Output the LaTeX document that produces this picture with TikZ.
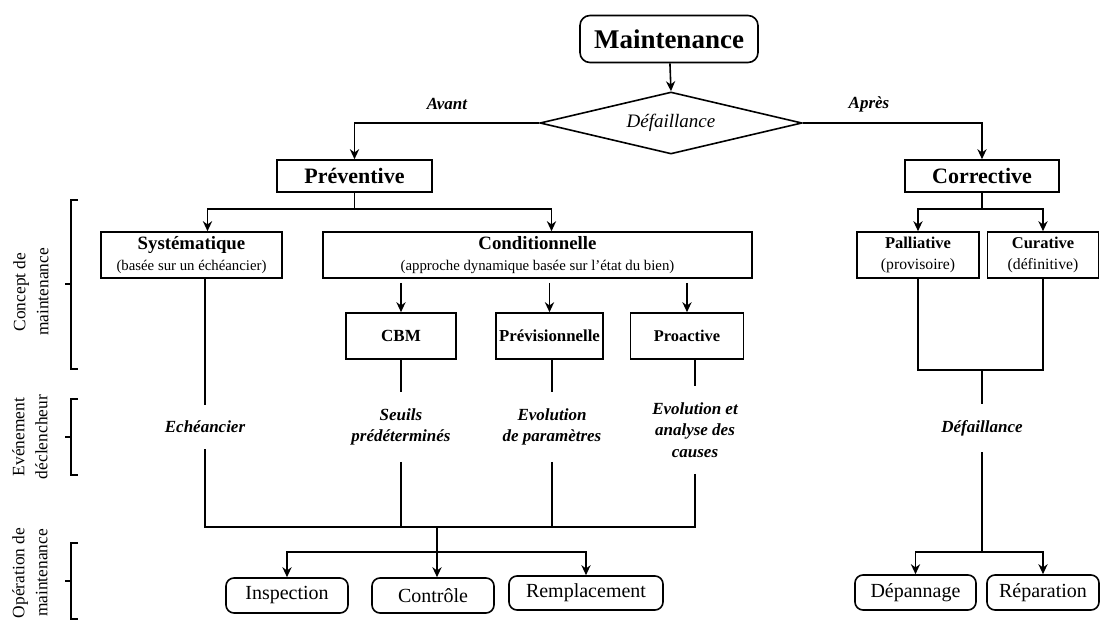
\documentclass[tikz,border=0pt]{standalone}
\usepackage{fontspec}
\setmainfont{Liberation Serif}
\usetikzlibrary{shapes.geometric,arrows.meta,positioning}

\tikzset{
  trait/.style={line width=0.8pt},
  fleche/.style={trait, -{Stealth[length=5pt,width=4.6pt]}},
  boite/.style={draw, trait, inner sep=0pt, align=center, minimum height=23pt},
  ronde/.style={boite, rounded corners=4pt, minimum height=17.5pt, font=\fontsize{10}{12}\selectfont},
  evt/.style={align=center, inner sep=8pt, font=\fontsize{8.5}{10.75}\selectfont\bfseries\itshape},
  cote/.style={rotate=90, align=center, font=\fontsize{8.7}{11.5}\selectfont},
}
\newcommand{\sousT}{\fontsize{7.4}{10.5}\selectfont}
\newcommand{\sousP}{\fontsize{7.85}{10.5}\selectfont}

\begin{document}
\begin{tikzpicture}[x=0.5pt,y=-0.5pt]
\useasboundingbox (0,0) rectangle (1100,621);

% haut
\node[boite, rounded corners=5pt, minimum width=89pt, minimum height=23.5pt,
  font=\fontsize{13.5}{16}\selectfont\bfseries] (maint) at (669,39) {Maintenance};
\node[diamond, aspect=4.2, draw, trait, inner sep=0pt, minimum width=131pt, minimum height=31pt,
  font=\fontsize{9.5}{11}\selectfont\itshape] (defail) at (671,123) {Défaillance};
\node[boite, minimum width=77.5pt, minimum height=16pt, font=\fontsize{11}{13}\selectfont\bfseries]
  (prev) at (354.5,176) {Préventive};
\node[boite, minimum width=77pt, minimum height=16pt, font=\fontsize{11}{13}\selectfont\bfseries]
  (corr) at (982,176) {Corrective};
\node[font=\fontsize{8.5}{10}\selectfont\bfseries\itshape] (avant) at (447,104) {Avant};
\node[font=\fontsize{8.5}{10}\selectfont\bfseries\itshape] (apres) at (869,104) {Après};

\draw[fleche] (maint) -- (defail.north);
\draw[fleche] (defail.west) -| (prev.north);
\draw[fleche] (defail.east) -| (corr.north);

% concept de maintenance
\node[boite, minimum width=90.5pt, font=\fontsize{9.4}{10.5}\selectfont] (sys) at (191.5,255)
  {\bfseries Systématique\\{\sousT (basée sur un échéancier)}};
\node[boite, minimum width=214.5pt, font=\fontsize{9.4}{10.5}\selectfont] (cond) at (537.5,255)
  {\bfseries Conditionnelle\\{\sousT (approche dynamique basée sur l’état du bien)}};
\node[boite, minimum width=61pt, font=\fontsize{8.25}{10.5}\selectfont] (pal) at (918,255)
  {\bfseries Palliative\\{\sousP (provisoire)}};
\node[boite, minimum width=55.5pt, font=\fontsize{8.25}{10.5}\selectfont] (cur) at (1043,255)
  {\bfseries Curative\\{\sousP (définitive)}};
\node[boite, minimum width=55pt, font=\fontsize{8.5}{10}\selectfont\bfseries] (cbm) at (401,336) {CBM};
\node[boite, minimum width=53.5pt, font=\fontsize{8.4}{10}\selectfont\bfseries] (previs) at (549.5,336) {Prévisionnelle};
\node[boite, minimum width=56.5pt, font=\fontsize{8.2}{10}\selectfont\bfseries] (proa) at (687,336) {Proactive};

\draw[trait] (prev.south) -- ++(0,16) coordinate (jprev);
\draw[fleche] (jprev) -| ([xshift=8pt]sys.north);
\draw[fleche] (jprev) -| ([xshift=7pt]cond.north);
\draw[trait] (corr.south) -- ++(0,16) coordinate (jcorr);
\draw[fleche] (jcorr) -| (pal.north);
\draw[fleche] (jcorr) -| (cur.north);
\draw[fleche, shorten <=2pt] (cond.south -| cbm.north) -- (cbm.north);
\draw[fleche, shorten <=2pt] (cond.south -| previs.north) -- (previs.north);
\draw[fleche, shorten <=2pt] (cond.south -| proa.north) -- (proa.north);

% evenement declencheur
\node[evt] (ech) at (205,427) {Echéancier};
\node[evt] (seuils) at (401,427) {Seuils\\prédéterminés};
\node[evt] (evol) at (552,427) {Evolution\\de paramètres};
\node[evt] (cause) at (695,430) {Evolution et\\analyse des\\causes};
\node[evt] (panne) at (982,428) {Défaillance};

\draw[trait] ([xshift=6.75pt]sys.south) -- (ech.north);
\draw[trait] (cbm.south) -- (seuils.north);
\draw[trait] (previs.south -| evol.north) -- (evol.north);
\draw[trait] (proa.south -| cause.north) -- (cause.north);
\coordinate (jcur) at (982,370);
\draw[trait] (pal.south) |- (jcur);
\draw[trait] (cur.south) |- (jcur);
\draw[trait] (jcur) -- (panne.north);

% operation de maintenance
\node[ronde, minimum width=61pt] (insp) at (287,595.5) {Inspection};
\node[ronde, minimum width=61pt] (ctrl) at (433,595.5) {Contrôle};
\node[ronde, minimum width=77pt, minimum height=17pt] (rempl) at (586,593) {Remplacement};
\node[ronde, minimum width=60.5pt] (dep) at (915.5,592.5) {Dépannage};
\node[ronde, minimum width=56pt] (rep) at (1043,592.5) {Réparation};

\coordinate (bas) at (437,527);
\coordinate (jop) at (437,552);
\draw[trait] (ech.south) |- (bas);
\draw[trait] (cause.south) |- (bas);
\draw[trait] (seuils.south) -- (seuils.south |- bas);
\draw[trait] (evol.south) -- (evol.south |- bas);
\draw[trait] (bas) -- (jop);
\draw[fleche] (jop) -| (insp.north);
\draw[fleche] (jop) -- (ctrl.north -| jop);
\draw[fleche] (jop) -| (rempl.north);
\coordinate (jrep) at (982,552);
\draw[trait] (panne.south) -- (jrep);
\draw[fleche] (jrep) -| (dep.north);
\draw[fleche] (jrep) -| (rep.north);

% accolades a gauche
\node[cote] (concept) at (31,292) {Concept de\\maintenance};
\node[cote] (evenement) at (30,437) {Evénement\\déclencheur};
\node[cote] (operation) at (30,573) {Opération de\\maintenance};
\draw[trait] (78,200) -- (71,200) -- (71,369) -- (78,369);
\draw[trait] (65,284) -- (71,284);
\draw[trait] (78,399) -- (71,399) -- (71,475) -- (78,475);
\draw[trait] (65,437) -- (71,437);
\draw[trait] (78,543) -- (71,543) -- (71,619) -- (78,619);
\draw[trait] (65,581) -- (71,581);
\end{tikzpicture}
\end{document}
